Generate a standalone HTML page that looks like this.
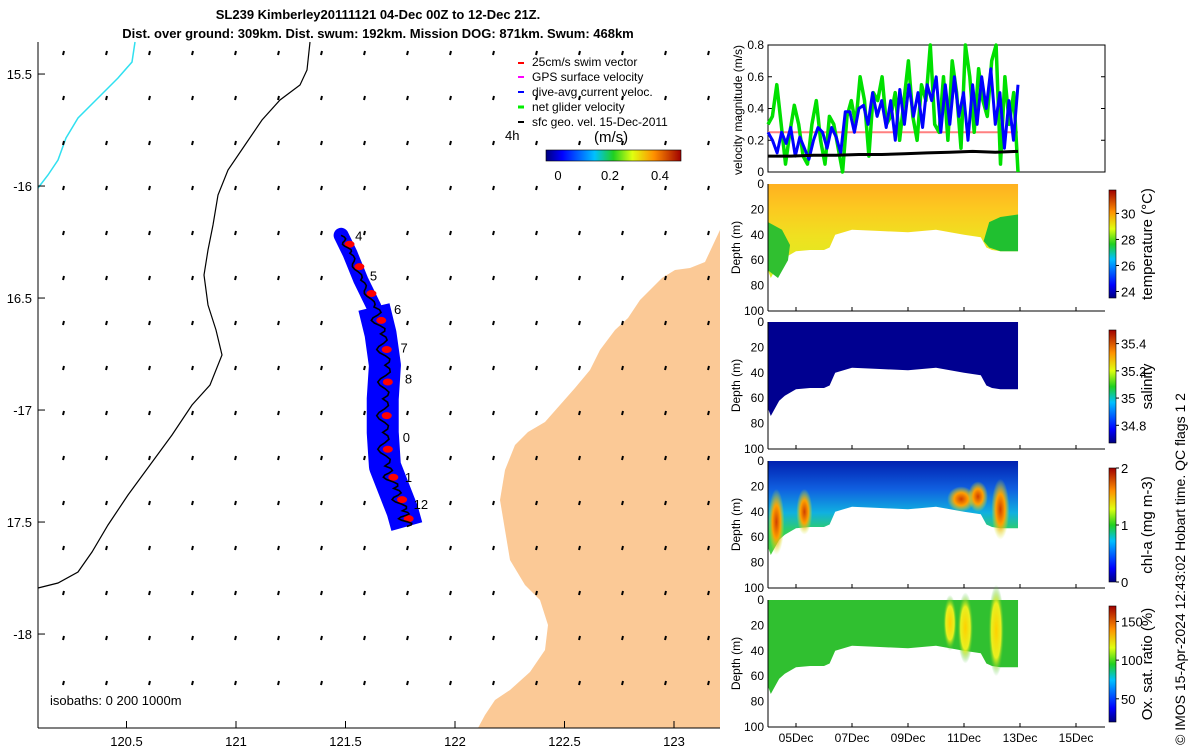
<!DOCTYPE html>
<html><head><meta charset="utf-8">
<style>
html,body{margin:0;padding:0;background:#fff;}
svg{display:block;font-family:"Liberation Sans","DejaVu Sans",sans-serif;}
</style></head>
<body>
<svg id="fig" width="1200" height="750" viewBox="0 0 1200 750" xmlns="http://www.w3.org/2000/svg">
<defs>
<linearGradient id="jetV" x1="0" y1="1" x2="0" y2="0">
<stop offset="0" stop-color="#00007f"/><stop offset="0.12" stop-color="#0000ff"/><stop offset="0.36" stop-color="#00c0ff"/><stop offset="0.5" stop-color="#20d020"/><stop offset="0.64" stop-color="#e0ff10"/><stop offset="0.8" stop-color="#ff9000"/><stop offset="1" stop-color="#a00000"/>
</linearGradient>
<linearGradient id="jetH" x1="0" y1="0" x2="1" y2="0">
<stop offset="0" stop-color="#00007f"/><stop offset="0.12" stop-color="#0000ff"/><stop offset="0.36" stop-color="#00c0ff"/><stop offset="0.5" stop-color="#20d020"/><stop offset="0.64" stop-color="#e0ff10"/><stop offset="0.8" stop-color="#ff9000"/><stop offset="1" stop-color="#a00000"/>
</linearGradient>
<linearGradient id="tempG" x1="0" y1="0" x2="0" y2="1">
<stop offset="0" stop-color="#ffb020"/><stop offset="0.25" stop-color="#fcc820"/><stop offset="0.55" stop-color="#f0e020"/><stop offset="1" stop-color="#d8f020"/>
</linearGradient>
<linearGradient id="chlG" x1="0" y1="0" x2="0" y2="1">
<stop offset="0" stop-color="#0020b0"/><stop offset="0.3" stop-color="#1060e0"/><stop offset="0.55" stop-color="#10b0e0"/><stop offset="0.75" stop-color="#30d060"/><stop offset="1" stop-color="#50d040"/>
</linearGradient>
<radialGradient id="blobO"><stop offset="0" stop-color="#d04000"/><stop offset="0.5" stop-color="#ffa000"/><stop offset="1" stop-color="#d0f020" stop-opacity="0"/></radialGradient>
<radialGradient id="blobY"><stop offset="0" stop-color="#ffd000"/><stop offset="0.6" stop-color="#e8f020"/><stop offset="1" stop-color="#30c030" stop-opacity="0"/></radialGradient>
</defs>

<text x="378" y="19" text-anchor="middle" font-size="13" font-weight="bold">SL239 Kimberley20111121 04-Dec 00Z to 12-Dec 21Z.</text>
<text x="378" y="38" text-anchor="middle" font-size="13" font-weight="bold">Dist. over ground: 309km. Dist. swum: 192km. Mission DOG: 871km. Swum: 468km</text>

<g id="map">
<polygon fill="#fbc996" points="720,230 705,262 690,268 675,270 662,278 650,290 640,300 628,318 615,330 600,350 590,370 575,388 560,405 545,422 528,432 515,445 505,470 500,500 505,530 510,560 525,585 540,600 548,625 545,650 530,672 510,690 495,700 485,715 478,728 720,728"/>
<polyline fill="none" stroke="#000" stroke-width="1.2" points="310,42 307,70 300,85 280,100 262,120 245,145 228,170 218,195 213,225 208,250 204,275 208,305 216,330 222,355 210,385 192,405 172,435 150,465 128,495 108,525 92,552 78,572 58,583 38,588"/>
<polyline fill="none" stroke="#30e0f0" stroke-width="1.5" points="135,42 132,62 118,78 98,98 78,118 66,138 58,160 48,175 38,188"/>
<g id="arrows"></g>
<g id="track"></g>
<line x1="38" y1="728" x2="720" y2="728" stroke="#000"/>
<line x1="38" y1="42" x2="38" y2="728" stroke="#000"/>
<g id="mapticks" font-size="13"></g>
<text x="50" y="705" font-size="13">isobaths: 0   200  1000m</text>
</g>

<g font-size="12">
<line x1="518" y1="63" x2="524" y2="63" stroke="#f00" stroke-width="2"/><text x="532" y="66">25cm/s swim vector</text>
<line x1="518" y1="77" x2="524" y2="77" stroke="#f0f" stroke-width="2"/><text x="532" y="81">GPS surface velocity</text>
<line x1="518" y1="92" x2="524" y2="92" stroke="#00f" stroke-width="2"/><text x="532" y="96">dive-avg current veloc.</text>
<line x1="518" y1="107" x2="524" y2="107" stroke="#0e0" stroke-width="3"/><text x="532" y="111">net glider velocity</text>
<line x1="518" y1="122" x2="524" y2="122" stroke="#000" stroke-width="2"/><text x="532" y="126">sfc geo. vel. 15-Dec-2011</text>
<text x="505" y="140" font-size="13">4h</text>
<text x="594" y="142" font-size="15">(m/s)</text>
<rect x="546" y="150" width="135" height="11" fill="url(#jetH)" stroke="#000" stroke-width="0.6"/>
<text x="558" y="180" text-anchor="middle" font-size="13">0</text>
<text x="610" y="180" text-anchor="middle" font-size="13">0.2</text>
<text x="660" y="180" text-anchor="middle" font-size="13">0.4</text>
</g>

<g id="vel">
<rect x="768" y="45" width="337" height="127" fill="none" stroke="#000"/>
<g id="velticks" font-size="12"></g>
<text transform="translate(742,110) rotate(-90)" text-anchor="middle" font-size="12">velocity magnitude (m/s)</text>
<g id="velseries"></g>
</g>

<g id="sections"></g>

<text transform="translate(1185,745) rotate(-90)" font-size="14">© IMOS 15-Apr-2024 12:43:02 Hobart time. QC flags 1  2</text>
</svg>

<script>
const velTicks = [0, 0.2, 0.4, 0.6, 0.8];
const dateTicks = ["05Dec","07Dec","09Dec","11Dec","13Dec","15Dec"];
const dateTickDays = [5, 7, 9, 11, 13, 15];
const netGlider = [0.3,0.35,0.55,0.3,0.05,0.25,0.42,0.3,0.1,0.05,0.3,0.45,0.2,0.05,0.35,0.3,0.15,0.0,0.35,0.45,0.3,0.6,0.45,0.1,0.5,0.45,0.6,0.3,0.35,0.5,0.2,0.45,0.7,0.35,0.2,0.55,0.45,0.8,0.3,0.25,0.6,0.2,0.7,0.5,0.15,0.8,0.6,0.25,0.65,0.45,0.35,0.7,0.8,0.05,0.6,0.3,0.5,0.0];
const diveAvg = [0.25,0.2,0.12,0.25,0.18,0.28,0.1,0.22,0.15,0.08,0.2,0.28,0.25,0.15,0.28,0.22,0.12,0.38,0.38,0.25,0.4,0.42,0.3,0.5,0.35,0.45,0.28,0.45,0.2,0.52,0.3,0.55,0.35,0.5,0.28,0.55,0.45,0.6,0.25,0.55,0.3,0.6,0.35,0.5,0.2,0.55,0.3,0.6,0.4,0.65,0.3,0.5,0.15,0.45,0.2,0.55];
const swimVec = [0.25, 0.25];
const sfcGeo = [0.1,0.1,0.105,0.105,0.11,0.11,0.115,0.12,0.125,0.13,0.125,0.13];
const depthTicks = [0,20,40,60,80,100];
const bottomDays = [4.0,4.1,4.2,4.4,4.6,5.0,5.5,6.0,6.2,6.4,7.0,8.0,9.0,10.0,11.0,11.6,11.8,12.0,12.3,12.93];
const bottomDepth = [68,74,70,62,58,53,52,52,50,40,36,37,38,36,40,42,50,52,53,53];
const tempTicks = [30,28,26,24];
const salTicks = [35.4,35.2,35,34.8];
const chlTicks = [2,1,0];
const oxyTicks = [150,100,50];
const mapLonTicks = [120.5,121,121.5,122,122.5,123];
const mapLatTicks = [-15.5,-16,-16.5,-17,-17.5,-18];
const mapLatLabels = ["15.5","-16","16.5","-17","17.5","-18"];
const trackLon = [121.48,121.52,121.57,121.63,121.66,121.68,121.67,121.67,121.68,121.72,121.76,121.78];
const trackLat = [-16.22,-16.3,-16.42,-16.54,-16.66,-16.8,-16.95,-17.1,-17.25,-17.35,-17.45,-17.52];
const dayLabels = ["4","5","6","7","8","0","1","12"];
const dayLabelLat = [-16.22,-16.4,-16.55,-16.72,-16.86,-17.12,-17.3,-17.42];

const NS = "http://www.w3.org/2000/svg";
function mk(tag, attrs, parent){ const e=document.createElementNS(NS,tag); for(const k in attrs) e.setAttribute(k,attrs[k]); parent.appendChild(e); return e; }

const lonX = lon => 455 + (lon - 122) * 219;
const latY = lat => 42 + (-15.357 - lat) * 224;

const mt = document.getElementById('mapticks');
mapLonTicks.forEach(v=>{
  const x=lonX(v);
  const l=mk('line',{x1:x,y1:728,x2:x,y2:721,stroke:'#000'},mt);
  
  
  const t=mk('text',{x:x,y:746,'text-anchor':'middle'},mt); t.textContent=String(v);
  
  
});
mapLatTicks.forEach((v,i)=>{
  const y=latY(v);
  const l=mk('line',{x1:38,y1:y,x2:45,y2:y,stroke:'#000'},mt);
  
  
  const t=mk('text',{x:32,y:y+5,'text-anchor':'end'},mt); t.textContent=mapLatLabels[i];
  
  
});

const ag=document.getElementById('arrows');
for(let gx=64; gx<720; gx+=43){
  for(let gy=53; gy<725; gy+=45){
    const a=mk('line',{x1:gx,y1:gy-2,x2:gx-1,y2:gy+2,stroke:'#000','stroke-width':2},ag);
    
    
  }
}

const tg=document.getElementById('track');
const P2=trackLon.map((lo,i)=>[lonX(lo),latY(trackLat[i])]);
const ptsTop=P2.slice(0,4).map(p=>p.join(',')).join(' ');
const ptsBot=P2.slice(3).map(p=>p.join(',')).join(' ');
const band0=mk('polyline',{points:ptsTop,fill:'none',stroke:'#0000ff','stroke-width':15,'stroke-linejoin':'round','stroke-linecap':'round'},tg);


const band1=mk('polyline',{points:ptsBot,fill:'none',stroke:'#0000ff','stroke-width':32,'stroke-linejoin':'round','stroke-linecap':'butt'},tg);


P2.forEach((p,i)=>{
  if(i===0) return;
  const x=(p[0]+P2[i-1][0])/2+4, y=(p[1]+P2[i-1][1])/2;
  const r=mk('ellipse',{cx:x,cy:y,rx:5,ry:3.5,fill:'#ff0000'},tg);
  
  
});
let d='';
for(let i=0;i<P2.length-1;i++){
  const [x0,y0]=P2[i],[x1,y1]=P2[i+1];
  for(let s=0;s<=10;s++){
    const f=s/10, x=x0+(x1-x0)*f+Math.sin(f*Math.PI*2*1.5)*(i<3?3:6), y=y0+(y1-y0)*f;
    d+=(d?' L':'M')+x.toFixed(1)+' '+y.toFixed(1);
  }
}
const bl=mk('path',{d:d,fill:'none',stroke:'#000','stroke-width':1.6},tg);


dayLabels.forEach((s,i)=>{
  const y=latY(dayLabelLat[i]);
  let xi=0; for(let k=0;k<trackLat.length;k++){ if(trackLat[k]>=dayLabelLat[i]) xi=k; }
  const t=mk('text',{x:lonX(trackLon[xi])+(i===0?14:20),y:y+5,'font-size':13},tg); t.textContent=s;
  
  
});

const dayX = d => 768 + (d - 4) * 28;
const velY = v => 172 - v * 158.75;
const vt=document.getElementById('velticks');
velTicks.forEach(v=>{
  const y=velY(v);
  const t=mk('text',{x:764,y:y+4,'text-anchor':'end'},vt); t.textContent=String(v);
  
  
  mk('line',{x1:768,y1:y,x2:772,y2:y,stroke:'#000'},vt);
  mk('line',{x1:1101,y1:y,x2:1105,y2:y,stroke:'#000'},vt);
});
const vs=document.getElementById('velseries');
function series(arr,color,w,name){
  const n=arr.length;
  const p=arr.map((v,i)=>dayX(4+8.93*i/(n-1)).toFixed(1)+','+velY(v).toFixed(1)).join(' ');
  const e=mk('polyline',{points:p,fill:'none',stroke:color,'stroke-width':w,'stroke-linejoin':'round'},vs);
  
  
}
series(swimVec,'#ff8080',2,'swim-vector-line');
series(netGlider,'#00e000',3.5,'net-glider-velocity-line');
series(diveAvg,'#0000ff',3,'dive-avg-current-line');
series(sfcGeo,'#000',3,'sfc-geo-velocity-line');

const sec=document.getElementById('sections');
const panels=[
 {top:184,name:'temperature',cb:[190,298],ticks:tempTicks,tmin:23.5,tmax:31.8,title:'temperature (°C)'},
 {top:322,name:'salinity',cb:[330,443],ticks:salTicks,tmin:34.67,tmax:35.5,title:'salinity'},
 {top:461,name:'chl-a',cb:[468,582],ticks:chlTicks,tmin:0,tmax:2,title:'chl-a (mg m-3)'},
 {top:600,name:'oxygen',cb:[606,722],ticks:oxyTicks,tmin:20,tmax:170,title:'Ox. sat. ratio (%)'}
];
panels.forEach((P,pi)=>{
  const g=mk('g',{},sec);
  
  
  const dY = z => P.top + z*1.27;
  let poly='768,'+dY(0)+' '+dayX(12.93)+','+dY(0);
  for(let i=bottomDays.length-1;i>=0;i--) poly+=' '+dayX(bottomDays[i]).toFixed(1)+','+dY(bottomDepth[i]).toFixed(1);
  const fills=['url(#tempG)','#000090','url(#chlG)','#30c030'];
  const area=mk('polygon',{points:poly,fill:fills[pi]},g);
  
  
  if(pi===0){
    mk('polygon',{points:`768,${dY(30)} 782,${dY(36)} 790,${dY(48)} 788,${dY(60)} 778,${dY(74)} 768,${dY(68)}`,fill:'#30c030'},g);
    mk('polygon',{points:`${dayX(11.7)},${dY(45)} ${dayX(11.9)},${dY(30)} ${dayX(12.3)},${dY(26)} ${dayX(12.93)},${dY(24)} ${dayX(12.93)},${dY(53)} ${dayX(12.3)},${dY(53)} ${dayX(11.9)},${dY(50)}`,fill:'#20c030'},g);
  }
  if(pi===2){
    [[4.3,48,8,26],[5.3,40,8,18],[12.3,38,9,24],[10.9,30,14,10],[11.5,28,10,12]].forEach(b=>{
      mk('ellipse',{cx:dayX(b[0]),cy:dY(b[1]),rx:b[2],ry:b[3]*1.27,fill:'url(#blobO)'},g);
    });
  }
  if(pi===3){
    [[10.5,18,7,22],[11.05,22,8,28],[12.15,24,8,36]].forEach(b=>{
      mk('ellipse',{cx:dayX(b[0]),cy:dY(b[1]),rx:b[2],ry:b[3]*1.27,fill:'url(#blobY)'},g);
    });
  }
  mk('line',{x1:768,y1:dY(0),x2:768,y2:dY(100),stroke:'#000'},g);
  mk('line',{x1:768,y1:dY(100),x2:1105,y2:dY(100),stroke:'#000'},g);
  depthTicks.forEach(z=>{
    const t=mk('text',{x:764,y:dY(z)+4,'text-anchor':'end','font-size':12},g); t.textContent=String(z);
    
    
  });
  dateTickDays.forEach(dd=>{ mk('line',{x1:dayX(dd),y1:dY(100),x2:dayX(dd),y2:dY(100)-4,stroke:'#000'},g); });
  const yt=mk('text',{transform:`translate(740,${dY(50)}) rotate(-90)`,'text-anchor':'middle','font-size':12},g); yt.textContent='Depth (m)';
  
  
  const cb=mk('rect',{x:1109,y:P.cb[0],width:7,height:P.cb[1]-P.cb[0],fill:'url(#jetV)',stroke:'#000','stroke-width':0.6},g);
  
  
  P.ticks.forEach(v=>{
    const y=P.cb[1]-(v-P.tmin)/(P.tmax-P.tmin)*(P.cb[1]-P.cb[0]);
    mk('line',{x1:1116,y1:y,x2:1119,y2:y,stroke:'#000'},g);
    const t=mk('text',{x:1121,y:y+5,'font-size':13},g); t.textContent=String(v);
    
    
  });
  const ct=mk('text',{transform:`translate(1152,${(P.cb[0]+P.cb[1])/2}) rotate(-90)`,'text-anchor':'middle','font-size':15},g); ct.textContent=P.title;
  
  
  if(pi===3){
    dateTicks.forEach((s,i)=>{
      const t=mk('text',{x:dayX(dateTickDays[i]),y:742,'text-anchor':'middle','font-size':12},g); t.textContent=s;
      
      
    });
  }
});
</script>
</body></html>
